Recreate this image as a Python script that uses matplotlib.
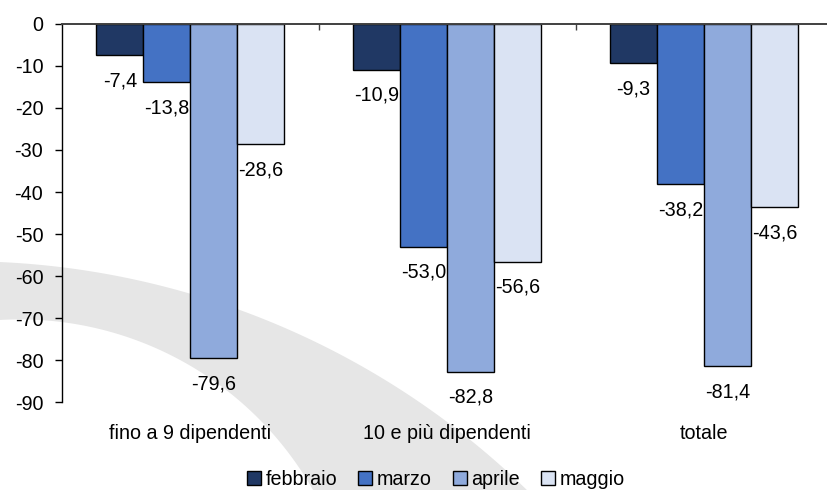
import matplotlib
matplotlib.use("Agg")
import matplotlib.pyplot as plt
import matplotlib.patches as mpatches
import numpy as np

plt.rcParams['font.family'] = ['Liberation Sans Narrow', 'Liberation Sans', 'DejaVu Sans']
plt.rcParams['axes.unicode_minus'] = False

categories = ["fino a 9 dipendenti", "10 e più dipendenti", "totale"]
series_names = ["febbraio", "marzo", "aprile", "maggio"]
febbraio = [-7.4, -10.9, -9.3]
marzo = [-13.8, -53.0, -38.2]
aprile = [-79.6, -82.8, -81.4]
maggio = [-28.6, -56.6, -43.6]
yticks = [0, -10, -20, -30, -40, -50, -60, -70, -80, -90]

series = [febbraio, marzo, aprile, maggio]
colors = ["#203864", "#4472C4", "#8FAADC", "#DAE3F3"]
FS = 14.2

W, H = 827, 490
fig = plt.figure(figsize=(W / 100, H / 100), dpi=100)

# background watermark swoosh (pixel coordinates, y downwards)
bg = fig.add_axes([0, 0, 1, 1], zorder=-1)
bg.set_xlim(0, W)
bg.set_ylim(H, 0)
bg.axis("off")
xu = np.linspace(-5, 545, 200)
yu = 1070 - np.sqrt(np.clip(808.8 ** 2 - (xu + 36.8) ** 2, 0, None))
xl = np.linspace(330, -5, 200)
yl = 657.2 - np.sqrt(np.clip(337.8 ** 2 - (xl - 19.5) ** 2, 0, None))
poly_x = np.concatenate([xu, [545, 330], xl])
poly_y = np.concatenate([yu, [540, 540], yl])
bg.fill(poly_x, poly_y, color="#E6E6E6", lw=0)

ax = fig.add_axes([62 / W, 1 - 402 / H, 770.5 / W, (402 - 24) / H], zorder=1)
ax.set_facecolor("none")

x = np.arange(len(categories))
w = 0.183
offsets = [-1.5, -0.5, 0.5, 1.5]
for vals, name, col, off in zip(series, series_names, colors, offsets):
    ax.bar(x + off * w, vals, width=w, color=col, edgecolor="black",
           linewidth=1.0, label=name, zorder=3)
    for xi, v in zip(x + off * w, vals):
        ax.annotate(f"{v:.1f}".replace(".", ","), xy=(xi, v), xytext=(0, -18.5),
                    textcoords="offset points", ha="center", va="center",
                    fontsize=FS, color="black", zorder=4)

ax.set_xlim(-0.5, 2.5)
ax.set_ylim(-90, 0)
ax.set_yticks(yticks)
ax.set_yticklabels([str(t) for t in yticks])
ax.set_xticks(x)
ax.set_xticklabels(categories)
ax.set_xticks([0.5, 1.5, 2.5], minor=True)

ax.tick_params(axis="y", direction="out", length=5, width=1, pad=8.5,
               labelsize=FS, color="black")
ax.tick_params(axis="x", which="major", length=0, pad=15.5, labelsize=FS,
               bottom=True, top=False)
ax.tick_params(axis="x", which="minor", top=True, bottom=False,
               direction="in", length=4, width=1, color="#404040")

for s in ["right", "bottom"]:
    ax.spines[s].set_visible(False)
ax.spines["left"].set_color("black")
ax.spines["left"].set_linewidth(1.0)
ax.spines["top"].set_color("#404040")
ax.spines["top"].set_linewidth(1.4)
ax.spines["top"].set_zorder(5)

handles = [mpatches.Patch(facecolor=c, edgecolor="black", linewidth=1.0)
           for c in colors]
fig.legend(handles, series_names, loc="center", bbox_to_anchor=(436 / W, 1 - 479 / H),
           ncol=4, frameon=False, fontsize=FS, handlelength=0.7,
           handleheight=0.7, handletextpad=0.25, columnspacing=1.05,
           borderpad=0, borderaxespad=0)

fig.savefig("out.png", dpi=100)
